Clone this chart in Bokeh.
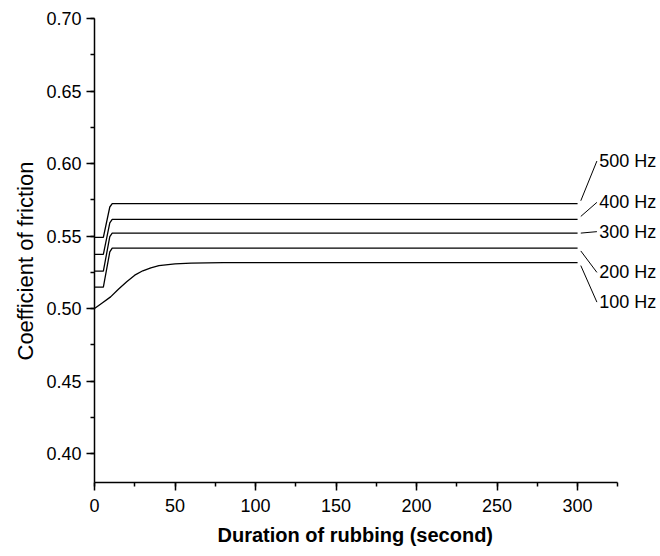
from bokeh.plotting import figure
from bokeh.models import FixedTicker, PrintfTickFormatter, Range1d, LabelSet, Title, ColumnDataSource
from bokeh.embed import file_html
from bokeh.resources import INLINE
from bokeh.core.properties import value

# ---- data ----
step_time = [0, 5.5, 9.5, 11, 300]
cof_500 = [0.549, 0.549, 0.5700, 0.5723, 0.5723]
cof_400 = [0.5373, 0.5373, 0.5590, 0.5615, 0.5615]
cof_300 = [0.5258, 0.5258, 0.5495, 0.5520, 0.5520]
cof_200 = [0.5148, 0.5148, 0.5390, 0.5417, 0.5417]
time_100 = [0, 5, 10, 15, 20, 25, 30, 35, 40, 50, 60, 80, 300]
cof_100 = [0.500, 0.504, 0.508, 0.5135, 0.5185, 0.523, 0.526, 0.528, 0.5295,
           0.5308, 0.5313, 0.5316, 0.5316]
series_labels = ["500 Hz", "400 Hz", "300 Hz", "200 Hz", "100 Hz"]
x_ticks = [0, 50, 100, 150, 200, 250, 300]
y_ticks = [0.40, 0.45, 0.50, 0.55, 0.60, 0.65, 0.70]

FONT = "Liberation Sans"

# the frame runs to the right edge so the curve labels are not clipped;
# the x axis line itself is bounded to 0..325
p = figure(width=660, height=556, output_backend="svg", toolbar_location=None,
           x_range=Range1d(0, 351.5), y_range=Range1d(0.38, 0.70),
           min_border_left=94, min_border_right=0, min_border_top=18,
           min_border_bottom=74)
p.outline_line_color = None
p.xgrid.visible = False
p.ygrid.visible = False
p.background_fill_color = "white"
p.border_fill_color = "white"

series = [(step_time, cof_500), (step_time, cof_400), (step_time, cof_300),
          (step_time, cof_200), (time_100, cof_100)]
for xs, ys in series:
    p.line(xs, ys, line_color="black", line_width=1.3)

# labels with leader lines
LABEL_SHIFT = [0.0294, 0.0117, 0.0010, -0.0168, -0.0272]
lead_x0, lead_x1, text_x = [], [], []
lead_y0, lead_y1 = [], []
for (xs, ys), sh in zip(series, LABEL_SHIFT):
    lead_x0.append(xs[-1] + 2)
    lead_x1.append(xs[-1] + 12)
    lead_y0.append(ys[-1] + (0.002 if sh > 0.005 else (-0.002 if sh < -0.005 else 0)))
    lead_y1.append(ys[-1] + sh)
    text_x.append(xs[-1] + 13.5)
p.segment(lead_x0, lead_y0, lead_x1, lead_y1, line_color="black", line_width=1)
lab_src = ColumnDataSource(dict(x=text_x, y=lead_y1, t=series_labels))
p.add_layout(LabelSet(x="x", y="y", text="t", source=lab_src,
                      text_font=value(FONT), text_font_size="18px",
                      text_baseline="middle", text_align="left",
                      text_color="black"))

# axes
p.xaxis.bounds = (0, 325)
p.xaxis.ticker = FixedTicker(ticks=x_ticks, minor_ticks=list(range(0, 326, 25)))
p.yaxis.ticker = FixedTicker(ticks=y_ticks,
                             minor_ticks=[0.375 + 0.025 * i for i in range(14)])
p.yaxis.formatter = PrintfTickFormatter(format="%.2f")
for ax in (p.xaxis, p.yaxis):
    ax.axis_line_color = "black"
    ax.axis_line_width = 1.5
    ax.major_tick_line_color = "black"
    ax.major_tick_line_width = 1.5
    ax.minor_tick_line_color = "black"
    ax.minor_tick_line_width = 1.5
    ax.major_tick_in = 0
    ax.major_tick_out = 8
    ax.minor_tick_in = 0
    ax.minor_tick_out = 4
    ax.major_label_text_font = FONT
    ax.major_label_text_font_size = "18px"
    ax.major_label_text_color = "black"

p.xaxis.major_label_standoff = 8
p.yaxis.major_label_standoff = 5

p.add_layout(Title(text="Duration of rubbing (second)", align="left", offset=123,
                   text_font=FONT, text_font_size="20px",
                   text_font_style="bold", text_color="black",
                   standoff=14), "below")
p.add_layout(Title(text="Coefficient of friction", align="left", offset=122,
                   text_font=FONT, text_font_size="22px",
                   text_font_style="normal", text_color="black",
                   standoff=12), "left")

open("out.html", "w").write(file_html(p, INLINE))
